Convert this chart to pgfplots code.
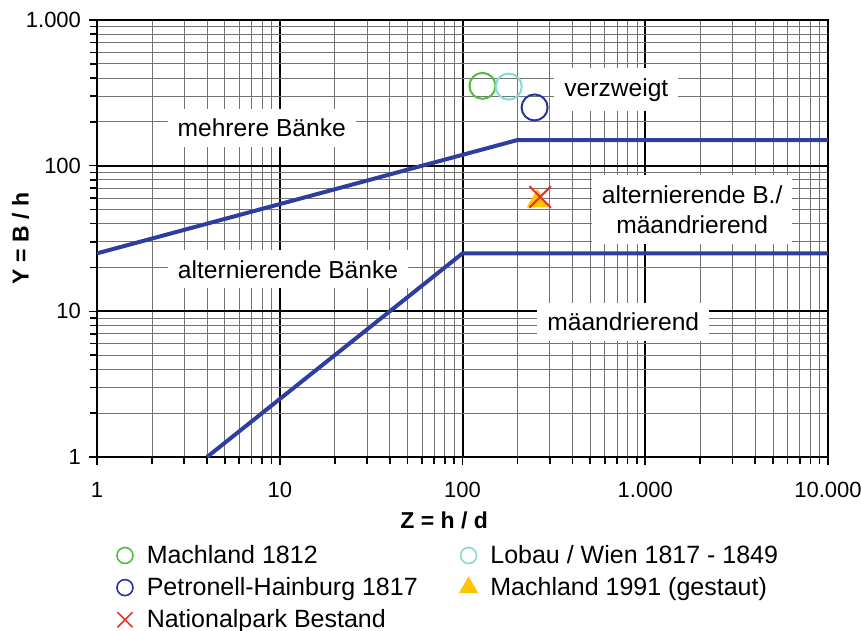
\documentclass[border=0pt]{standalone}
\usepackage{pgfplots}
\pgfplotsset{compat=1.18}
\usepackage{fontspec}
\setmainfont{Liberation Sans}
\definecolor{lineblue}{RGB}{46,62,160}
\definecolor{cgreen}{RGB}{80,190,60}
\definecolor{ccyan}{RGB}{130,220,210}
\definecolor{cblue}{RGB}{40,52,158}
\definecolor{cred}{RGB}{232,50,40}
\definecolor{cyellow}{RGB}{255,196,0}
\begin{document}
\begin{tikzpicture}
\begin{axis}[
  xmode=log, ymode=log,
  scale only axis, width=365.5pt, height=218.5pt,
  xmin=1, xmax=10000, ymin=1, ymax=1000,
  xtick={1,10,100,1000,10000}, xticklabels={1,10,100,1.000,10.000},
  ytick={1,10,100,1000}, yticklabels={1,10,100,1.000},
  tick pos=left, tick align=outside,
  major tick length=4pt, minor tick length=3.5pt,
  grid=both,
  major grid style={black, line width=1pt},
  minor grid style={black!55, line width=0.4pt},
  axis line style={black, line width=1pt},
  every tick/.style={black, line width=0.8pt},
  minor tick style={black, line width=0.8pt},
  ticklabel style={font=\fontsize{11}{13}\selectfont},
  xticklabel style={yshift=-5pt},
  yticklabel style={xshift=-0.5pt},
  xlabel={Z = h / d}, ylabel={Y = B / h},
  label style={font=\fontsize{11.5}{13}\selectfont\bfseries},
  xlabel style={at={(ticklabel cs:0.475)}},
  ylabel shift=-8.5pt,
  legend columns=2,
  legend cell align=left,
  legend image code/.code={\path (-6pt,0pt) (8.5pt,0pt); \draw[#1] plot coordinates {(0pt,0pt)};},
  legend style={draw=none, fill=none, at={(axis description cs:0.012,-0.182)}, anchor=north west,
    font=\fontsize{12.5}{15}\selectfont, row sep=1.5pt,
    /tikz/every even column/.append style={column sep=17pt}},
]
\addplot[lineblue, line width=2pt, forget plot] coordinates {(1,25) (200,150) (10000,150)};
\addplot[lineblue, line width=2pt, forget plot] coordinates {(4,1) (100,25) (10000,25)};

\addplot[only marks, mark=o, mark size=6.5pt, cgreen, line width=1pt, forget plot] coordinates {(128.6,353)};
\addplot[only marks, mark=o, mark size=6.5pt, ccyan, line width=1pt, forget plot] coordinates {(179,349)};
\addplot[only marks, mark=o, mark size=6.5pt, cblue, line width=1pt, forget plot] coordinates {(248,251)};
\addplot[only marks, mark=triangle*, mark size=5.8pt, cyellow, forget plot] coordinates {(257,57)};
\addplot[only marks, mark=x, mark size=7.6pt, cred, line width=1pt, forget plot] coordinates {(266,61)};

\addlegendimage{only marks, mark=o, mark size=4pt, cgreen, line width=0.8pt}
\addlegendentry{Machland 1812}
\addlegendimage{only marks, mark=o, mark size=4pt, ccyan, line width=0.8pt}
\addlegendentry{Lobau / Wien 1817 - 1849}
\addlegendimage{only marks, mark=o, mark size=4pt, cblue, line width=0.8pt}
\addlegendentry{Petronell-Hainburg 1817}
\addlegendimage{only marks, mark=triangle*, mark size=5.2pt, cyellow}
\addlegendentry{Machland 1991 (gestaut)}
\addlegendimage{only marks, mark=x, mark size=5.3pt, cred, line width=0.8pt}
\addlegendentry{Nationalpark Bestand}

\tikzset{lbl/.style={fill=white, inner xsep=5pt, inner ysep=5pt, font=\fontsize{12.3}{15}\selectfont, align=center}}
\node[lbl] at (axis cs:695,332) {verzweigt};
\node[lbl] at (axis cs:7.97,182) {mehrere Bänke};
\node[lbl] at (axis cs:1806,50) {alternierende B./\\mäandrierend};
\node[lbl] at (axis cs:11.1,19.4) {alternierende Bänke};
\node[lbl] at (axis cs:758,8.5) {mäandrierend};
\end{axis}
\pgfresetboundingbox
\path[use as bounding box] ([xshift=-48.5pt,yshift=-87pt]current axis.south west) rectangle ([xshift=16.5pt,yshift=10pt]current axis.north east);
\end{tikzpicture}
\end{document}
